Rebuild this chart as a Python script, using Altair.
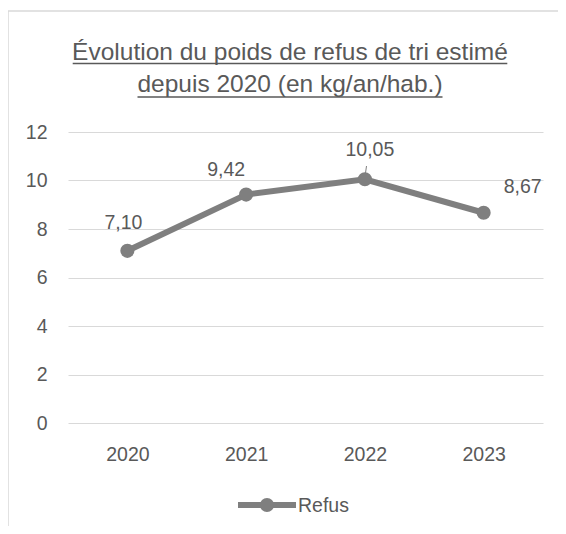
import altair as alt
import pandas as pd

years = ["2020", "2021", "2022", "2023"]
values = [7.10, 9.42, 10.05, 8.67]
series_name = "Refus"
title_lines = ["Évolution du poids de refus de tri estimé", "depuis 2020 (en kg/an/hab.)"]
y_ticks = [0, 2, 4, 6, 8, 10, 12]

df = pd.DataFrame({"annee": years, "valeur": values})

FONT = "Liberation Sans"
LFS = 19.5
TFS = 24.5
TXT = "#595959"
GREY = "#7f7f7f"
GRID = "#d9d9d9"
W, H = 475, 291

x_enc = alt.X("annee:N", sort=years,
              scale=alt.Scale(type="point", padding=0.5),
              axis=alt.Axis(title=None, labelAngle=0, labelFont=FONT, labelFontSize=LFS,
                            labelColor=TXT, labelPadding=22, ticks=False, domain=False,
                            grid=False))
y_enc = alt.Y("valeur:Q",
              scale=alt.Scale(domain=[0, 12], nice=False, zero=True),
              axis=alt.Axis(title=None, values=y_ticks, labelFont=FONT, labelFontSize=LFS,
                            labelColor=TXT, labelPadding=21, ticks=False, domain=False,
                            grid=True, gridColor=GRID, gridWidth=1))

base = alt.Chart(df)

line = base.mark_line(color=GREY, strokeWidth=6).encode(x=x_enc, y=y_enc)
pts = base.mark_circle(color=GREY, size=200, opacity=1).encode(x=x_enc, y=y_enc)

offsets = {"2020": (-4, -28), "2021": (-20, -25), "2022": (5, -29), "2023": (39, -26)}
label_layers = []
for yr in years:
    dx, dy = offsets[yr]
    label_layers.append(
        base.transform_filter(alt.datum.annee == yr)
        .transform_calculate(lab="replace(format(datum.valeur, '.2f'), '.', ',')")
        .mark_text(font=FONT, fontSize=LFS, color=TXT, dx=dx, dy=dy, baseline="middle", align="center")
        .encode(x=x_enc, y=y_enc, text="lab:N")
    )

# leader line for 2022 label
leader = alt.Chart(pd.DataFrame({"a": [0]})).mark_rule(color=GREY, strokeWidth=1).encode(
    x=alt.value(298.5), x2=alt.value(297.5), y=alt.value(34), y2=alt.value(41))

title1 = alt.Chart(pd.DataFrame({"t": [title_lines[0]]})).mark_text(
    font=FONT, fontSize=TFS, color=TXT, align="center", baseline="alphabetic").encode(
    x=alt.value(222), y=alt.value(-72), text="t:N")
title2 = alt.Chart(pd.DataFrame({"t": [title_lines[1]]})).mark_text(
    font=FONT, fontSize=TFS, color=TXT, align="center", baseline="alphabetic").encode(
    x=alt.value(222), y=alt.value(-40), text="t:N")
ul1 = alt.Chart(pd.DataFrame({"a": [0]})).mark_rule(color=TXT, strokeWidth=1.5).encode(
    x=alt.value(4.7), x2=alt.value(439.3), y=alt.value(-68.5))
ul2 = alt.Chart(pd.DataFrame({"a": [0]})).mark_rule(color=TXT, strokeWidth=1.5).encode(
    x=alt.value(69.5), x2=alt.value(374.5), y=alt.value(-35))

# chart border
bl = alt.Chart(pd.DataFrame({"a": [0]})).mark_rule(color=GRID, strokeWidth=1.5).encode(
    x=alt.value(-60), y=alt.value(-121), y2=alt.value(394))
bt = alt.Chart(pd.DataFrame({"a": [0]})).mark_rule(color=GRID, strokeWidth=1.5).encode(
    x=alt.value(-60), x2=alt.value(490), y=alt.value(-121))

# legend
lg_line = alt.Chart(pd.DataFrame({"a": [0]})).mark_rule(color=GREY, strokeWidth=6).encode(
    x=alt.value(170), x2=alt.value(228), y=alt.value(373))
lg_pt = alt.Chart(pd.DataFrame({"a": [0]})).mark_circle(color=GREY, size=200, opacity=1).encode(
    x=alt.value(199), y=alt.value(373))
lg_txt = alt.Chart(pd.DataFrame({"t": [series_name]})).mark_text(
    font=FONT, fontSize=LFS, color=TXT, align="left", baseline="middle").encode(
    x=alt.value(230), y=alt.value(374), text="t:N")

chart = alt.layer(
    line, pts, *label_layers, leader, title1, title2, ul1, ul2, bl, bt, lg_line, lg_pt, lg_txt
).properties(
    width=W, height=H,
    autosize=alt.AutoSizeParams(type="none"),
    padding={"left": 60, "top": 124, "right": 15, "bottom": 103},
    background="white",
).configure_view(stroke=None)

chart.save("out.html", embed_options={"renderer": "svg", "actions": False})
